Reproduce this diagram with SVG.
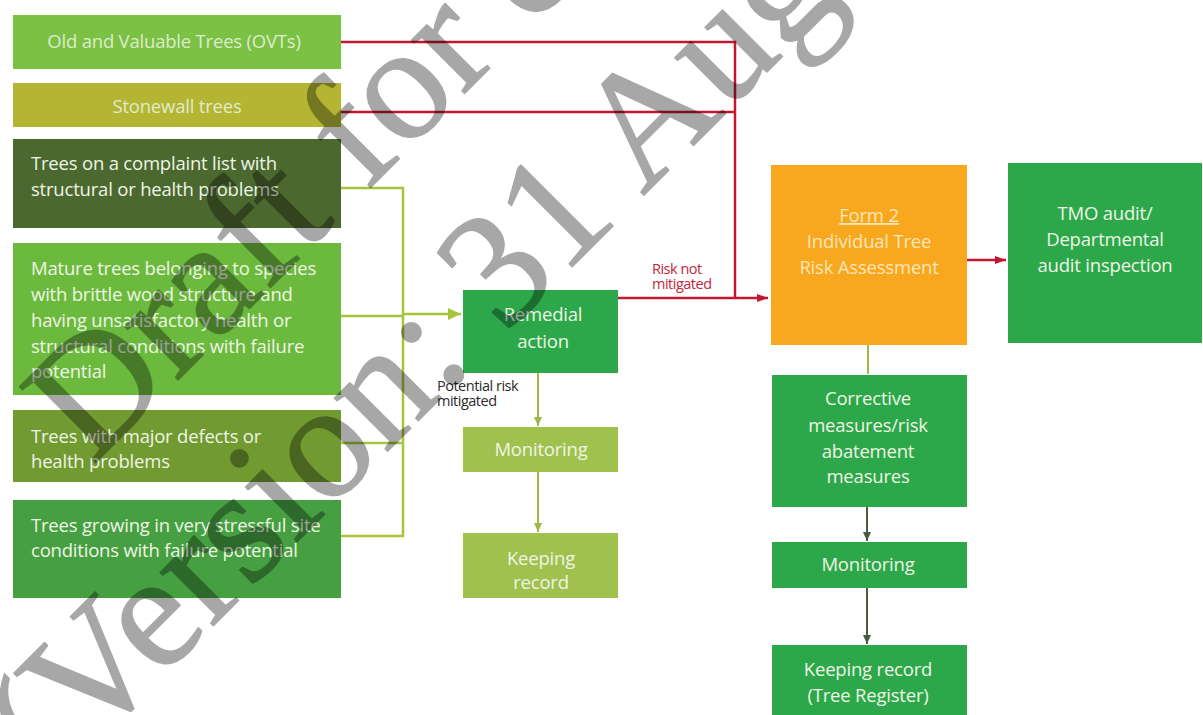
<svg xmlns="http://www.w3.org/2000/svg" width="1203" height="715" viewBox="0 0 1203 715">
<defs>
<marker id="mr" markerUnits="userSpaceOnUse" markerWidth="12" markerHeight="10" refX="11" refY="5" orient="auto"><path d="M0,1 L11,5 L0,9 z" fill="#c2172f"/></marker>
<marker id="mg" markerUnits="userSpaceOnUse" markerWidth="14" markerHeight="12" refX="13" refY="6" orient="auto"><path d="M0,0 L13,6 L0,12 z" fill="#a6c43c"/></marker>
<marker id="mo" markerUnits="userSpaceOnUse" markerWidth="10" markerHeight="10" refX="9" refY="5" orient="auto"><path d="M0,1 L9,5 L0,9 z" fill="#9fb84a"/></marker>
<marker id="md" markerUnits="userSpaceOnUse" markerWidth="10" markerHeight="10" refX="9" refY="5" orient="auto"><path d="M0,1 L9,5 L0,9 z" fill="#4d5a42"/></marker>
</defs>
<style>
.t{font-family:"Open Sans","Noto Sans",sans-serif;font-size:18.5px;fill:#eef5e6;letter-spacing:-0.2px}
.c{text-anchor:middle}
.lbl{font-family:"Open Sans","Noto Sans",sans-serif;font-size:14.5px;letter-spacing:-0.5px}
.red{fill:none;stroke:#c2172f;stroke-width:2.5}
.grn{fill:none;stroke:#a6c43c;stroke-width:2.5}
.olv{fill:none;stroke:#9fb84a;stroke-width:2}
.drk{fill:none;stroke:#4d5a42;stroke-width:2}
.wm{font-family:"Liberation Serif","Times New Roman",serif;font-size:164px;fill:#000;stroke:#000;stroke-width:1.5;stroke-linejoin:round}
</style>
<rect width="1203" height="715" fill="#ffffff"/>

<g id="connectors">
<path class="red" d="M341,42 H735 V298"/>
<path class="red" d="M341,112 H735"/>
<path class="red" d="M618,298 H768" marker-end="url(#mr)"/>
<path class="red" d="M967,260 H1006" marker-end="url(#mr)"/>
<path class="grn" d="M341,188 H403 V536 H341"/>
<path class="grn" d="M341,316 H403"/>
<path class="grn" d="M341,443 H403"/>
<path class="grn" d="M403,314 H461" marker-end="url(#mg)"/>
<path class="olv" d="M538,373 V426" marker-end="url(#mo)"/>
<path class="olv" d="M538,472 V532" marker-end="url(#mo)"/>
<path class="olv" d="M868,345 V374"/>
<path class="drk" d="M867,507 V541" marker-end="url(#md)"/>
<path class="drk" d="M867,588 V644" marker-end="url(#md)"/>
<text class="lbl" x="652" y="274" fill="#c0283a">Risk not</text>
<text class="lbl" x="652" y="289" fill="#c0283a">mitigated</text>
<text class="lbl" x="437" y="391" fill="#2b2b2b">Potential risk</text>
<text class="lbl" x="437" y="406" fill="#2b2b2b">mitigated</text>
</g>

<g id="n-ovt">
<rect x="13" y="15" width="328" height="54" fill="#7bc143"/>
<text class="t c" x="174" y="48" fill-opacity="0.85">Old and Valuable Trees (OVTs)</text>
</g>
<g id="n-stonewall">
<rect x="13" y="83" width="328" height="44" fill="#b3b533"/>
<text class="t c" x="177" y="113" fill-opacity="0.85">Stonewall trees</text>
</g>
<g id="n-complaint">
<rect x="13" y="139" width="328" height="89" fill="#4b682e"/>
<text class="t" x="31" y="170">Trees on a complaint list with</text>
<text class="t" x="31" y="196">structural or health problems</text>
</g>
<g id="n-mature">
<rect x="13" y="243" width="328" height="152" fill="#6cba3d"/>
<text class="t" x="31" y="275">Mature trees belonging to species</text>
<text class="t" x="31" y="301">with brittle wood structure and</text>
<text class="t" x="31" y="327">having unsatisfactory health or</text>
<text class="t" x="31" y="353">structural conditions with failure</text>
<text class="t" x="31" y="378">potential</text>
</g>
<g id="n-defects">
<rect x="13" y="410" width="328" height="72" fill="#719a30"/>
<text class="t" x="31" y="443">Trees with major defects or</text>
<text class="t" x="31" y="468">health problems</text>
</g>
<g id="n-stressful">
<rect x="13" y="500" width="328" height="98" fill="#46a041"/>
<text class="t" x="31" y="532">Trees growing in very stressful site</text>
<text class="t" x="31" y="557">conditions with failure potential</text>
</g>

<g id="n-remedial">
<rect x="463" y="290" width="155" height="83" fill="#2ca84a"/>
<text class="t c" x="543" y="321">Remedial</text>
<text class="t c" x="543" y="348">action</text>
</g>
<g id="n-monitoring-1">
<rect x="463" y="427" width="155" height="45" fill="#a0c14d"/>
<text class="t c" x="541" y="456">Monitoring</text>
</g>
<g id="n-record-1">
<rect x="463" y="533" width="155" height="65" fill="#a0c14d"/>
<text class="t c" x="541" y="565">Keeping</text>
<text class="t c" x="541" y="589">record</text>
</g>

<g id="n-form2">
<rect x="771" y="165" width="196" height="180" fill="#f7a81f"/>
<text class="t c" x="869" y="222" style="fill:#fde6b8" text-decoration="underline">Form 2</text>
<text class="t c" x="869" y="248" style="fill:#fde6b8">Individual Tree</text>
<text class="t c" x="869" y="274" style="fill:#fde6b8">Risk Assessment</text>
</g>
<g id="n-tmo">
<rect x="1008" y="163" width="194" height="180" fill="#2ca84a"/>
<text class="t c" x="1105" y="220">TMO audit/</text>
<text class="t c" x="1105" y="246">Departmental</text>
<text class="t c" x="1105" y="272">audit inspection</text>
</g>
<g id="n-corrective">
<rect x="772" y="375" width="195" height="132" fill="#2ca84a"/>
<text class="t c" x="868" y="405">Corrective</text>
<text class="t c" x="868" y="432">measures/risk</text>
<text class="t c" x="868" y="458">abatement</text>
<text class="t c" x="868" y="483">measures</text>
</g>
<g id="n-monitoring-2">
<rect x="772" y="542" width="195" height="46" fill="#2ca84a"/>
<text class="t c" x="868" y="571">Monitoring</text>
</g>
<g id="n-record-2">
<rect x="772" y="645" width="195" height="70" fill="#2ca84a"/>
<text class="t c" x="868" y="676">Keeping record</text>
<text class="t c" x="868" y="702">(Tree Register)</text>
</g>

<g id="watermark" opacity="0.34">
<text class="wm" transform="translate(92,466) rotate(-45)">Draft for c</text>
<text class="wm" transform="translate(50,789) rotate(-45)">(Version: 31 Aug</text>
</g>
</svg>
